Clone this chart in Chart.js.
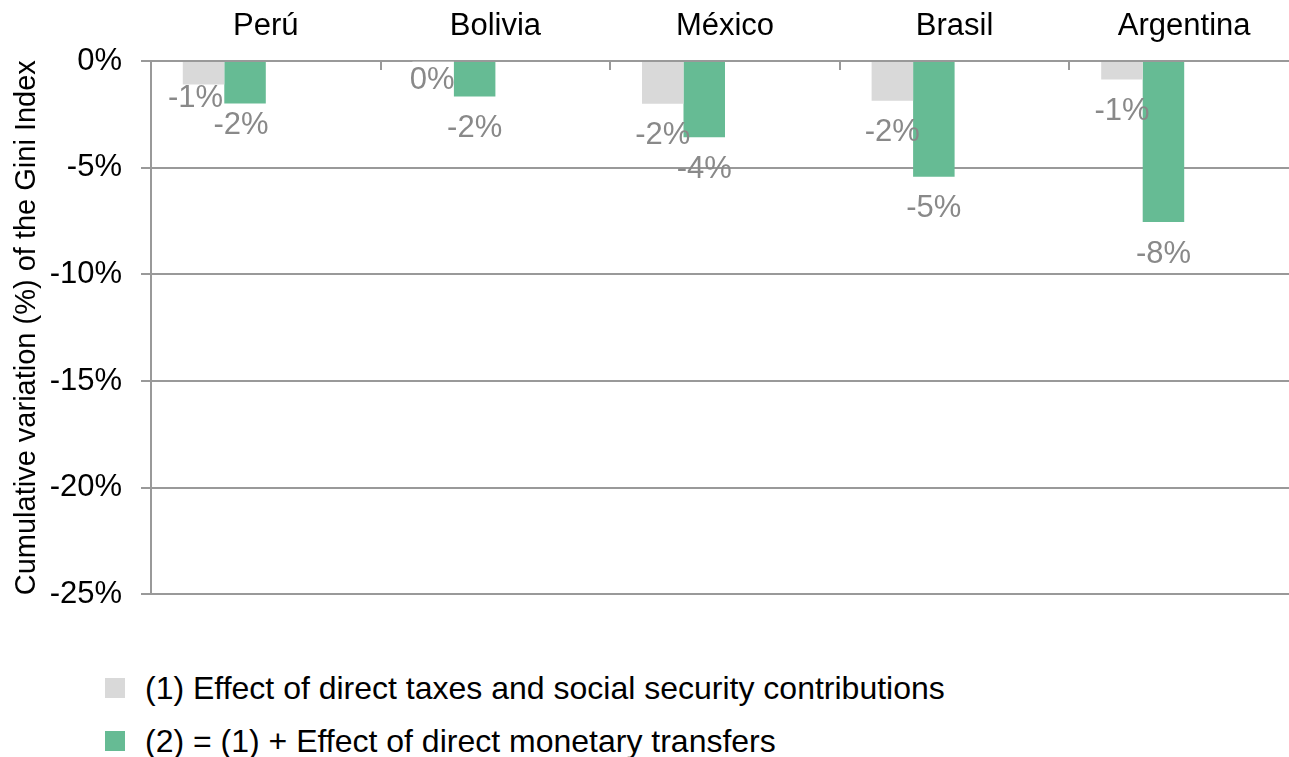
<!DOCTYPE html>
<html>
<head>
<meta charset="utf-8">
<script src="https://cdn.jsdelivr.net/npm/chart.js@4.4.1/dist/chart.umd.min.js"></script>
<style>
  html, body { margin: 0; padding: 0; background: #fff; overflow: hidden; }
  body { width: 1289px; height: 757px; position: relative; font-family: "Liberation Sans", Arial, sans-serif; }
  #wrap { position: absolute; left: 0; top: 0; width: 1299px; height: 632px; }
  #legend { position: absolute; left: 105px; top: 670px; }
  .item { display: flex; align-items: center; height: 36px; margin-bottom: 17px; font-size: 32px; color: #000; }
  .box { width: 20px; height: 20px; margin-right: 20px; }
</style>
</head>
<body>
<div id="wrap"><canvas id="chart"></canvas></div>
<div id="legend"></div>
<script>
const countries = ['Perú', 'Bolivia', 'México', 'Brasil', 'Argentina'];
const taxEffect = [-1.1, -0.02, -2.0, -1.86, -0.87];
const transferEffect = [-1.99, -1.66, -3.57, -5.42, -7.55];
const seriesNames = [
  '(1) Effect of direct taxes and social security contributions',
  '(2) = (1) + Effect of direct monetary transfers'
];
const yMin = -25;
const yMax = 0;
const yStep = 5;

const GRAY = '#d9d9d9';
const GREEN = '#66bb94';
const LINE = '#999999';
const FONT = '"Liberation Sans", Arial, sans-serif';

// value labels under each bar, a couple of them hand-nudged
const barLabels = {
  id: 'barLabels',
  afterDatasetsDraw(chart, args, opts) {
    const ctx = chart.ctx;
    ctx.save();
    ctx.font = opts.size + 'px ' + FONT;
    ctx.fillStyle = opts.color;
    ctx.textAlign = 'center';
    ctx.textBaseline = 'middle';
    [0, 1].forEach(di => {
      const meta = chart.getDatasetMeta(di);
      meta.data.forEach((bar, i) => {
        const v = chart.data.datasets[di].data[i];
        const n = opts.nudge[di + '-' + i] || [0, 0];
        ctx.fillText(Math.round(v) + '%', bar.x + n[0], bar.y + opts.offset + n[1]);
      });
    });
    ctx.restore();
  }
};

// short marks between categories hanging from the top axis
const catTicks = {
  id: 'catTicks',
  afterDraw(chart) {
    const x = chart.scales.x;
    const top = chart.chartArea.top;
    const ctx = chart.ctx;
    ctx.save();
    ctx.strokeStyle = LINE;
    ctx.lineWidth = 2;
    for (let i = 1; i <= countries.length; i++) {
      const px = Math.round(x.left + x.width * i / countries.length);
      ctx.beginPath();
      ctx.moveTo(px, top);
      ctx.lineTo(px, top + 9);
      ctx.stroke();
    }
    ctx.restore();
  }
};

const empty = countries.map(() => null);

new Chart(document.getElementById('chart'), {
  type: 'bar',
  data: {
    labels: countries,
    datasets: [
      { label: seriesNames[0], data: taxEffect, backgroundColor: GRAY },
      { label: seriesNames[1], data: transferEffect, backgroundColor: GREEN },
      { label: '', data: empty },
      { label: '', data: empty }
    ]
  },
  options: {
    responsive: true,
    maintainAspectRatio: false,
    animation: false,
    layout: { padding: { top: 0, bottom: 27, left: 0, right: 0 } },
    datasets: { bar: { categoryPercentage: 0.723, barPercentage: 1.0, borderWidth: 0 } },
    plugins: {
      legend: { display: false },
      tooltip: { enabled: false },
      barLabels: {
        size: 31,
        color: '#898989',
        offset: 32,
        nudge: { '0-0': [-8, -18], '1-0': [-4, -10], '0-1': [-1, -13] }
      }
    },
    scales: {
      x: {
        position: 'top',
        grid: { display: false, drawTicks: false },
        border: { display: true, color: LINE, width: 2 },
        ticks: { color: '#000', padding: 16, font: { family: FONT, size: 31 } },
        afterFit(scale) { scale.height = 61; }
      },
      y: {
        min: yMin,
        max: yMax,
        grid: { color: LINE, lineWidth: 2, tickLength: 10, tickColor: LINE },
        border: { display: true, color: LINE, width: 2 },
        ticks: {
          stepSize: yStep,
          color: '#000',
          padding: 19,
          font: { family: FONT, size: 31 },
          callback: v => v + '%'
        },
        title: {
          display: true,
          text: 'Cumulative variation (%) of the Gini Index',
          color: '#000',
          font: { family: FONT, size: 29 },
          padding: { top: 10, bottom: 0 }
        },
        afterFit(scale) { scale.width = 151; }
      }
    }
  },
  plugins: [barLabels, catTicks]
});

const legend = document.getElementById('legend');
[GRAY, GREEN].forEach((c, i) => {
  const row = document.createElement('div');
  row.className = 'item';
  row.innerHTML = '<span class="box" style="background:' + c + '"></span><span>' + seriesNames[i] + '</span>';
  legend.appendChild(row);
});
</script>
</body>
</html>
